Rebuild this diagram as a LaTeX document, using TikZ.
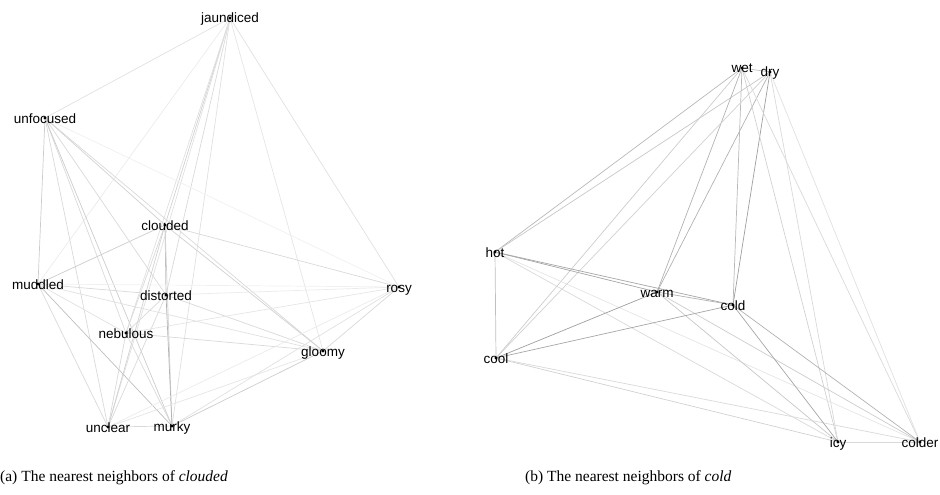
\documentclass[tikz,border=0pt]{standalone}
\usepackage{fontspec}
\setmainfont{Liberation Serif}
\newfontfamily\wordfont{Liberation Sans}
\begin{document}
\begin{tikzpicture}[x=1pt,y=-1pt,
	word/.style={font=\wordfont\fontsize{13.5}{14}\selectfont,inner sep=0pt,anchor=base},
	link/.style={line width=0.7pt,draw=black!#1},
	caption/.style={font=\fontsize{15.5}{17}\selectfont,inner sep=0pt,anchor=base west}]
	\useasboundingbox (0,0) rectangle (940,495);
	% (a) neighbours of clouded
	\coordinate (jaundiced) at (230,18);
	\coordinate (unfocused) at (45,118);
	\coordinate (clouded) at (165,225);
	\coordinate (muddled) at (38,284);
	\coordinate (distorted) at (166,295);
	\coordinate (nebulous) at (126,333);
	\coordinate (unclear) at (108,427);
	\coordinate (murky) at (172,426);
	\coordinate (rosy) at (399,287);
	\coordinate (gloomy) at (323,351);
	% (b) neighbours of cold
	\coordinate (wet) at (742,68);
	\coordinate (dry) at (770,72);
	\coordinate (hot) at (495,252);
	\coordinate (warm) at (657,292);
	\coordinate (cool) at (496,358);
	\coordinate (cold) at (733,305);
	\coordinate (icy) at (838,442);
	\coordinate (colder) at (920,442);
	\foreach \a/\b/\s in {jaundiced/unfocused/12,jaundiced/muddled/8,jaundiced/clouded/18,
		jaundiced/distorted/15,jaundiced/nebulous/12,jaundiced/unclear/12,jaundiced/murky/12,
		jaundiced/rosy/12,jaundiced/gloomy/10,unfocused/clouded/18,unfocused/muddled/20,
		unfocused/distorted/15,unfocused/nebulous/15,unfocused/unclear/15,unfocused/murky/20,
		unfocused/rosy/6,unfocused/gloomy/15,clouded/muddled/20,clouded/distorted/25,
		clouded/nebulous/15,clouded/unclear/18,clouded/murky/18,clouded/rosy/15,clouded/gloomy/18,
		muddled/distorted/15,muddled/nebulous/12,muddled/unclear/15,muddled/murky/25,muddled/rosy/6,
		muddled/gloomy/12,distorted/nebulous/15,distorted/unclear/15,distorted/murky/30,
		distorted/rosy/8,distorted/gloomy/15,nebulous/unclear/15,nebulous/murky/15,nebulous/rosy/10,
		nebulous/gloomy/15,unclear/murky/15,unclear/rosy/8,unclear/gloomy/10,murky/rosy/12,
		murky/gloomy/20,rosy/gloomy/15}
		\draw[link=\s] (\a)--(\b);
	\foreach \a/\b/\s in {wet/dry/25,wet/hot/28,dry/hot/22,wet/warm/30,dry/warm/30,wet/cold/28,
		dry/cold/38,wet/cool/20,dry/cool/18,wet/icy/18,dry/icy/15,wet/colder/15,dry/colder/12,
		hot/warm/35,hot/cold/35,hot/cool/25,hot/icy/15,hot/colder/10,warm/cold/30,warm/cool/38,
		warm/icy/22,warm/colder/20,cool/cold/35,cool/icy/18,cool/colder/15,cold/icy/35,
		cold/colder/30,icy/colder/15}
		\draw[link=\s] (\a)--(\b);
	\foreach \w in {jaundiced,unfocused,clouded,muddled,distorted,nebulous,unclear,murky,rosy,gloomy,
		wet,dry,hot,warm,cool,cold,icy,colder}{
		\fill (\w) circle (1.6);
		\node[word] at ([yshift=-5pt]\w) {\w};
	}
	\node[caption] (capa) at (0,481) {(a) The nearest neighbors of \textit{clouded}};
	\node[caption] (capb) at (525,481) {(b) The nearest neighbors of \textit{cold}};
\end{tikzpicture}
\end{document}
